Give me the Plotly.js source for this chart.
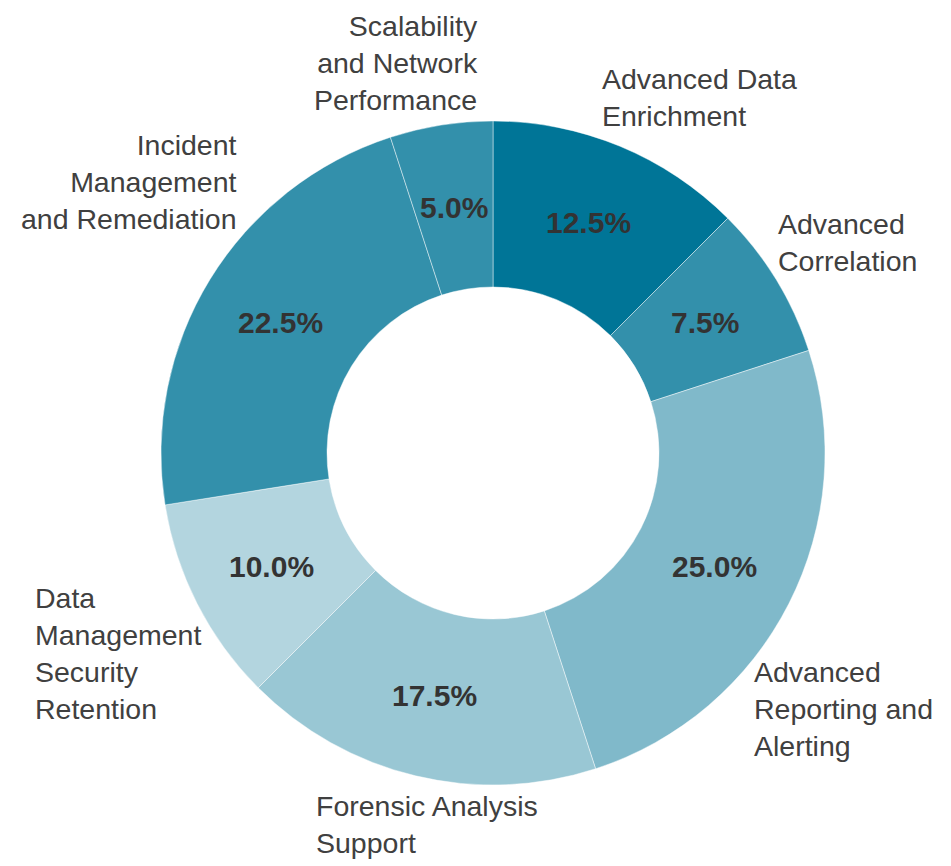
<!DOCTYPE html>
<html lang="en">
<head>
    <meta charset="UTF-8">
    <script src="https://cdn.plot.ly/plotly-3.0.1.min.js"></script>
    <style>
        html, body, #plot {
            height: 100%;
            width: 100%;
            margin: 0;
            padding: 0;
            overflow: hidden;
            background: #ffffff;
        }
    </style>
</head>
<body>
<div id="plot"></div>
<script>
    // slice data, clockwise from 12 o'clock
    const categories = [
        'Advanced Data<br>Enrichment',
        'Advanced<br>Correlation',
        'Advanced<br>Reporting and<br>Alerting',
        'Forensic Analysis<br>Support',
        'Data<br>Management<br>Security<br>Retention',
        'Incident<br>Management<br>and Remediation',
        'Scalability<br>and Network<br>Performance'
    ];
    const shares = [12.5, 7.5, 25.0, 17.5, 10.0, 22.5, 5.0];
    const sliceColors = ['#007597', '#3390ab', '#80b9ca', '#99c7d4', '#b3d5df', '#3390ab', '#3390ab'];

    // label placement (pixels), tuned per label to sit where the original put them
    const labelAnchor = [
        {xa: 'left',  align: 'left',  dx: -25, dy: -37},
        {xa: 'left',  align: 'left',  dx: -11, dy: -30},
        {xa: 'left',  align: 'left',  dx: -48, dy: 99},
        {xa: 'left',  align: 'left',  dx: -98, dy: 36},
        {xa: 'right', align: 'left',  dx: 17,  dy: 44},
        {xa: 'right', align: 'right', dx: 40,  dy: -91},
        {xa: 'right', align: 'right', dx: 41,  dy: -49}
    ];

    const W = 951, H = 866;
    const margin = {l: 161, r: 126, t: 121, b: 81};
    const plotW = W - margin.l - margin.r;
    const plotH = H - margin.t - margin.b;
    const R = plotW / 2;
    const hole = 0.5;
    const labelR = R + 13;
    const pctR = R * (1 + hole) / 2;

    const font = "'Liberation Sans', Arial, sans-serif";
    const total = shares.reduce((a, b) => a + b, 0);
    const annotations = [];
    let cum = 0;
    shares.forEach((v, i) => {
        const mid = (cum + v / 2) / total * 2 * Math.PI;
        cum += v;
        const s = Math.sin(mid), c = Math.cos(mid);
        const a = labelAnchor[i];
        // category name outside the ring
        annotations.push({
            text: categories[i],
            xref: 'paper', yref: 'paper',
            x: 0.5 + labelR * s / plotW,
            y: 0.5 + labelR * c / plotH,
            xanchor: a.xa, yanchor: 'middle', align: a.align,
            xshift: a.dx, yshift: -a.dy,
            showarrow: false,
            font: {family: font, size: 28.5, color: '#404040'}
        });
        // percentage in the middle of the ring
        annotations.push({
            text: (v / total * 100).toFixed(1) + '%',
            xref: 'paper', yref: 'paper',
            x: 0.5 + pctR * s / plotW,
            y: 0.5 + pctR * c / plotH,
            xanchor: 'center', yanchor: 'middle',
            showarrow: false,
            font: {family: font, size: 30, color: '#333333', weight: 'bold'}
        });
    });

    const trace = {
        type: 'pie',
        values: shares,
        labels: categories,
        hole: hole,
        sort: false,
        direction: 'clockwise',
        rotation: 0,
        marker: {
            colors: sliceColors,
            line: {color: 'rgba(255,255,255,0.45)', width: 1}
        },
        textinfo: 'none',
        hoverinfo: 'label+percent',
        showlegend: false
    };

    const layout = {
        width: W,
        height: H,
        margin: margin,
        paper_bgcolor: '#ffffff',
        plot_bgcolor: '#ffffff',
        showlegend: false,
        annotations: annotations
    };

    Plotly.newPlot('plot', [trace], layout, {displayModeBar: false});
</script>
</body>
</html>
